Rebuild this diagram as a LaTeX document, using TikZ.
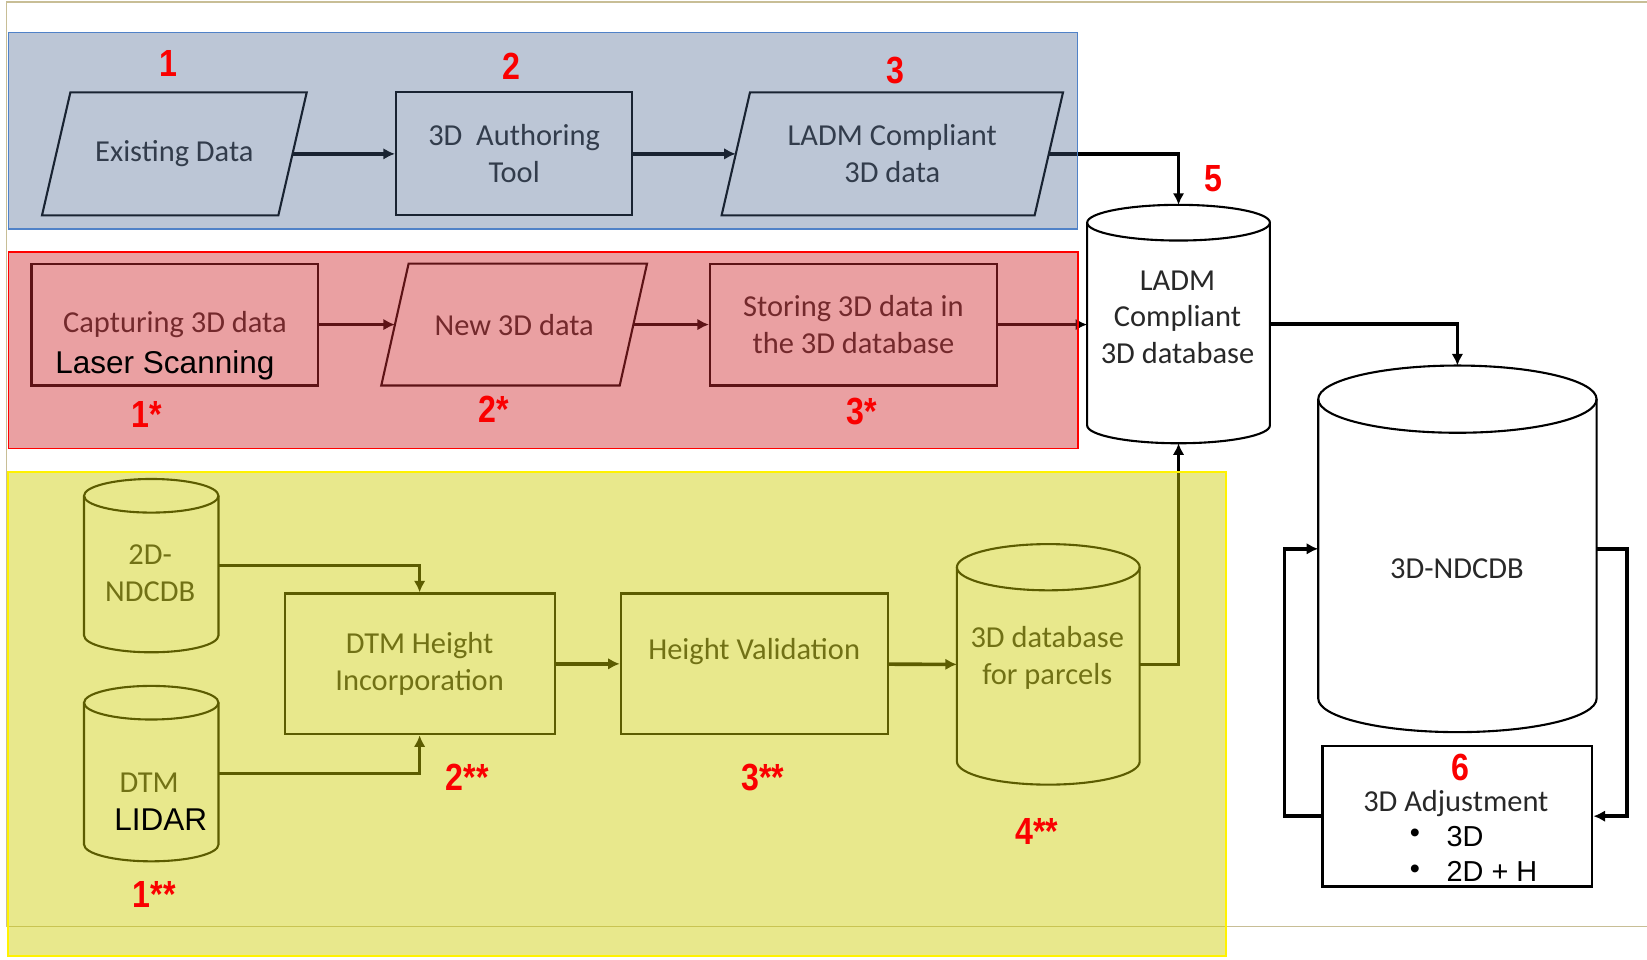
\documentclass[tikz,border=0pt]{standalone}
\usepackage{fontspec}
\setmainfont{Carlito}
\newfontfamily\arialf{Liberation Sans}
\newfontfamily\numf[FakeStretch=0.85]{Liberation Sans}
\usetikzlibrary{shapes.geometric,arrows.meta}
\definecolor{txtgray}{RGB}{40,40,40}
\definecolor{framec}{RGB}{200,190,150}
\definecolor{blueov}{RGB}{70,98,140}
\definecolor{blueln}{RGB}{80,130,200}
\definecolor{redov}{RGB}{208,44,49}
\definecolor{yelov}{RGB}{204,204,0}
\definecolor{numred}{RGB}{250,0,0}
\newcommand\drawcyl[3]{%
  \draw[cylline] ([yshift=-#3pt]#1.north west) -- ([yshift=#3pt]#1.south west)
    arc[start angle=180,end angle=360,x radius=#2pt,y radius=#3pt]
    -- ([yshift=-#3pt]#1.north east);
  \draw[cylline] ([yshift=-#3pt]#1.north) ellipse[x radius=#2pt,y radius=#3pt];
}
\newcommand\drawpara[2]{%
  \draw[paraline] ([xshift=#2pt]#1.north west) -- (#1.north east)
    -- ([xshift=-#2pt]#1.south east) -- (#1.south west) -- cycle;
}
\begin{document}
\begin{tikzpicture}[x=1pt,y=-1pt,
  txt/.style={text=txtgray,font=\fontsize{29}{35}\selectfont,align=center,inner sep=0pt},
  boxn/.style={draw=black,line width=2pt,rectangle,inner sep=0pt,minimum height=117pt,txt},
  paran/.style={rectangle,inner sep=0pt,outer sep=0pt,minimum height=117pt,txt},
  paraline/.style={draw=black,line width=2pt,line join=miter},
  cylnode/.style={rectangle,inner sep=0pt,outer sep=0pt},
  cylline/.style={draw=black,line width=2pt},
  conn/.style={draw=black,line width=3.4pt,-{Latex[length=11pt,width=11pt]}},
  num/.style={text=numred,font=\numf\bfseries\fontsize{36}{40}\selectfont,inner sep=0pt},
  blk/.style={text=black,font=\arialf\fontsize{30}{34}\selectfont,inner sep=0pt},
  bul/.style={text=black,font=\arialf\fontsize{27.5}{32}\selectfont,inner sep=0pt,anchor=west},
]
\useasboundingbox (0,0) rectangle (1568,913);
% outer frame
\draw[framec,line width=1.5pt] (1568,2) -- (6,2) -- (6,882) -- (1568,882);

% ---------- blue row ----------
\node[paran,minimum width=252pt] (ex) at (166,146.5) {Existing Data};
\drawpara{ex}{27}
\node[boxn,minimum width=225pt] (auth) at (489.5,146.5) {3D\ \ Authoring\\Tool};
\node[paran,minimum width=325pt] (lc) at (849.5,146.5) {LADM Compliant\\3D data};
\drawpara{lc}{27}

% ---------- red row ----------
\node[boxn,minimum width=273pt,minimum height=116pt] (cap) at (166.5,309) {Capturing 3D data};
\node[paran,minimum width=253pt,minimum height=116pt] (new) at (489.5,309) {New 3D data};
\drawpara{new}{26}
\node[boxn,minimum width=273pt,minimum height=116pt] (st) at (812.5,309) {Storing 3D data in\\the 3D database};

% ---------- databases ----------
\node[cylnode,minimum width=174pt,minimum height=227pt] (ladm) at (1122,308.5) {};
\drawcyl{ladm}{87}{17}
\node[txt] (ladmt) at (1121,302) {LADM\\Compliant\\3D database};

\node[cylnode,minimum width=265pt,minimum height=349pt] (ndc) at (1387.5,522.5) {};
\drawcyl{ndc}{132.5}{32}
\node[txt] (ndct) at (1387,541) {3D-NDCDB};

\node[boxn,minimum width=257pt,minimum height=134pt] (adj) at (1387.5,777) {};
\node[txt] (adjt) at (1386,765) {3D Adjustment};
\node[bul] (b1) at (1342,796) {\textbullet};
\node[bul] (b1t) at (1377,796) {3D};
\node[bul] (b2) at (1342,830) {\textbullet};
\node[bul] (b2t) at (1377,830) {2D + H};

% ---------- yellow row ----------
\node[cylnode,minimum width=128pt,minimum height=165pt] (twod) at (144,538.5) {};
\drawcyl{twod}{64}{16}
\node[txt] (twodt) at (143,545.5) {2D-\\NDCDB};
\node[cylnode,minimum width=128pt,minimum height=167pt] (dtm) at (144,736.5) {};
\drawcyl{dtm}{64}{16}
\node[txt] (dtmt) at (142,745) {DTM};
\node[boxn,minimum width=257pt,minimum height=134pt] (dtmh) at (399.5,632) {DTM Height\\Incorporation};
\node[boxn,minimum width=254pt,minimum height=134pt] (hv) at (718,632) {};
\node[txt] (hvt) at (718,620) {Height Validation};
\node[cylnode,minimum width=174pt,minimum height=229pt] (pdb) at (998,632.5) {};
\drawcyl{pdb}{87}{22}
\node[txt] (pdbt) at (997,626) {3D database\\for parcels};

% ---------- connectors ----------
\draw[conn] ([xshift=-13.5pt]ex.east) -- (auth.west);
\draw[conn] (auth.east) -- ([xshift=13.5pt]lc.west);
\draw[conn] ([xshift=-13.5pt]lc.east) -| (ladm.north);
\draw[conn] (cap.east) -- ([xshift=13pt]new.west);
\draw[conn] ([xshift=-13pt]new.east) -- (st.west);
\draw[conn] (st.east) -- (st.east -| ladm.west);
\draw[conn] (ladm.east) -| (ndc.north);
\draw[conn] (adj.west) -- ++(-35,0) |- (ndc.west);
\draw[conn] (ndc.east) -- ++(29,0) |- (adj.east);
\draw[conn] (twod.east) -| (dtmh.north);
\draw[conn] (dtm.east) -| (dtmh.south);
\draw[conn] (dtmh) -- (hv);
\draw[conn] (hv) -- (pdb.west);
\draw[conn] (pdb.east) -| (ladm.south);

% ---------- bands (translucent overlays) ----------
\path[fill=blueov,fill opacity=0.36,draw=blueln,line width=1.3pt] (8,31) rectangle (1026,218);
\path[fill=redov,fill opacity=0.45,draw=red,line width=1.6pt] (8,240) rectangle (1026,427);
\path[fill=yelov,fill opacity=0.45,draw=yellow,line width=2pt] (8,449) rectangle (1167,910);

% ---------- overlay labels ----------
\node[blk] (laser) at (157,348) {Laser Scanning};
\node[blk] (lidar) at (153,780) {LIDAR};
\node[num] (n1) at (160,60) {1};
\node[num] (n2) at (487,63) {2};
\node[num] (n3) at (852,67) {3};
\node[num] (n5) at (1155,170) {5};
\node[num] (n1s) at (140,395) {1*};
\node[num] (n2s) at (470,390) {2*};
\node[num] (n3s) at (820,392) {3*};
\node[num] (n1d) at (147,852) {1**};
\node[num] (n2d) at (445,740) {2**};
\node[num] (n3d) at (726,740) {3**};
\node[num] (n4d) at (987,792) {4**};
\node[num] (n6) at (1390,731) {6};
\end{tikzpicture}
\end{document}
